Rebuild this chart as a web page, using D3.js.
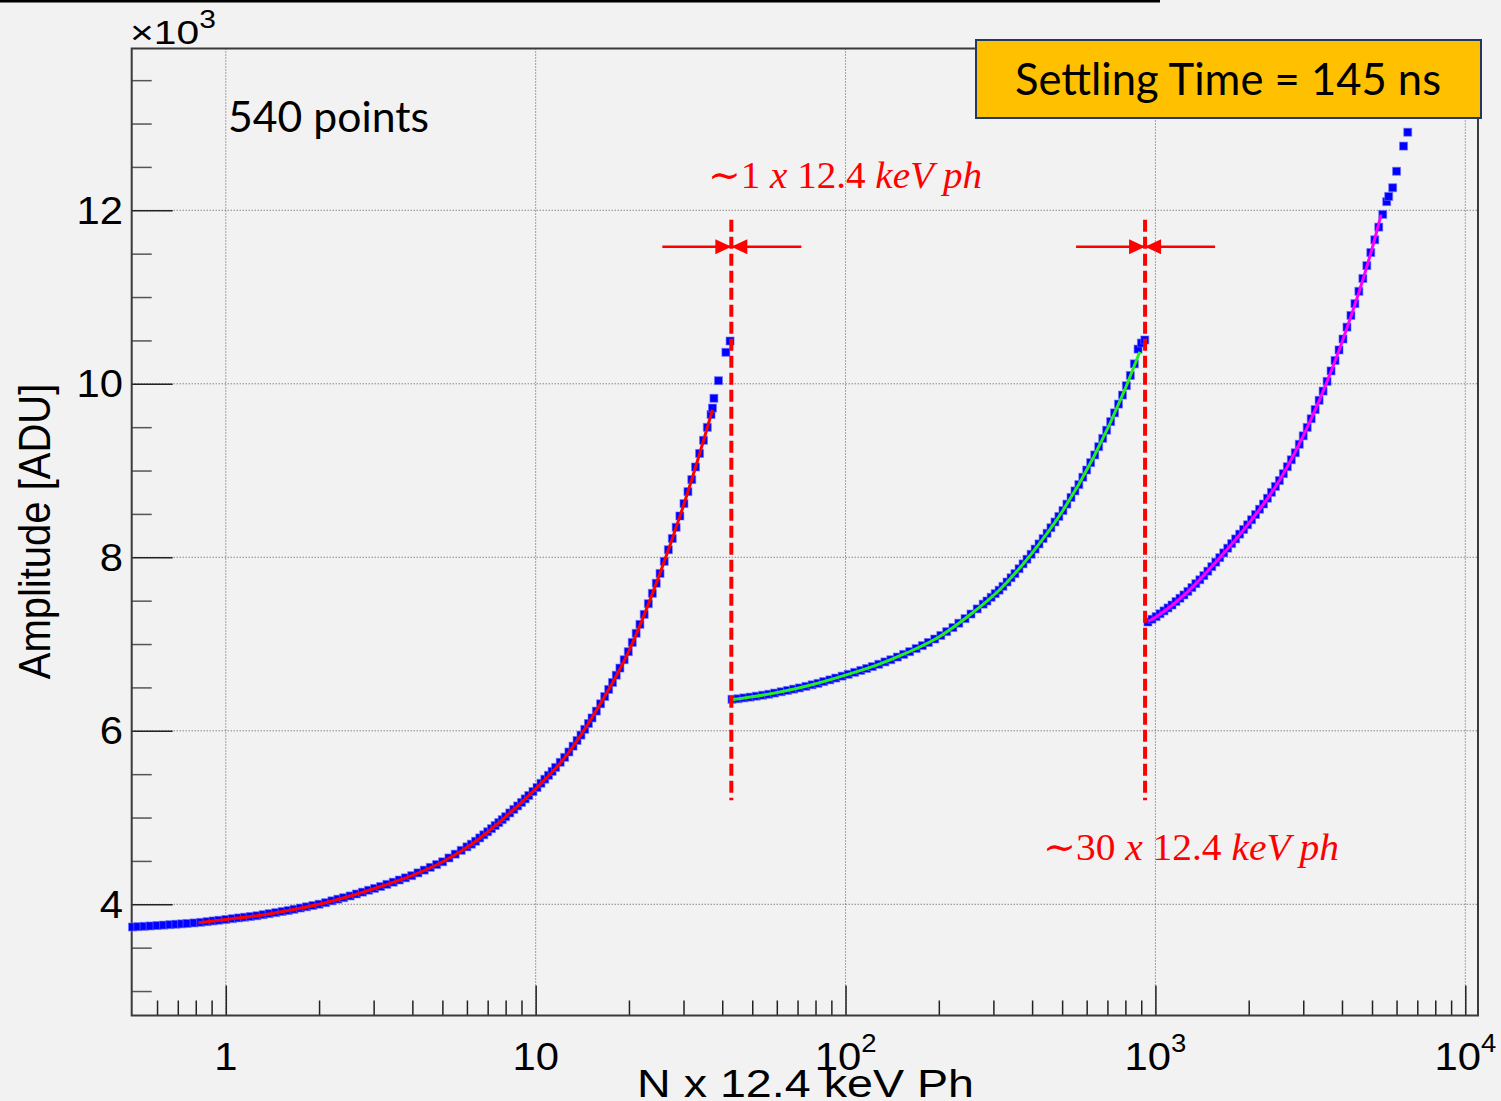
<!DOCTYPE html>
<html>
<head>
<meta charset="utf-8">
<script src="https://cdn.jsdelivr.net/npm/d3@7"></script>
<style>
  html, body { margin: 0; padding: 0; background: #f2f2f2; overflow: hidden; }
  svg { display: block; }
</style>
</head>
<body>
<svg id="chart" width="1501" height="1101"></svg>
<script>
// ---- Measured amplitudes: N x 12.4 keV photons vs. amplitude [ADU] ----
// Gain stage 1 (high gain)
const stage1N = [0.50,0.52,0.545,0.57,0.60,0.63,0.66,0.69,0.72,0.75,0.79,0.83,0.87,0.91,0.95,1.00,1.05,1.10,1.15,1.20,1.26,1.32,1.38,1.45,1.52,1.59,1.66,1.74,1.82,1.91,2.00,2.10,2.20,2.30,2.40,2.52,2.64,2.76,2.89,3.02,3.16,3.31,3.47,3.63,3.80,3.98,4.17,4.37,4.57,4.79,5.01,5.25,5.50,5.75,
  6.0,6.2,6.4,6.6,6.8,7.0,7.2,7.4,7.6,7.8,8.0,8.25,8.5,8.75,9.0,9.25,9.5,9.8,10.1,10.4,10.7,11.0,11.3,11.6,12.0,12.4,12.8,13.2,13.6,14.0,14.4,14.8,15.2,15.7,16.2,16.7,17.2,17.7,18.2,18.7,19.3,19.9,20.5,21.1,21.7,22.4,23.1,23.8,24.5,25.2,26.0,26.8,27.6,28.4,29.2,30.1,31.0,31.9,32.8,33.8,34.8,35.8,36.8,37.2,37.6,38.9,41.1,42.4];
const stage1ADU = [3738,3742,3746,3750,3755,3760,3765,3770,3774,3779,3785,3792,3800,3808,3816,3825,3834,3843,3851,3859,3868,3880,3892,3904,3917,3928,3942,3957,3971,3986,4001,4019,4040,4059,4076,4096,4119,4140,4162,4183,4205,4230,4255,4280,4305,4330,4362,4394,4426,4458,4490,4534,4578,4622,
  4662,4693,4727,4765,4801,4836,4872,4908,4942,4976,5010,5053,5094,5134,5174,5215,5254,5300,5346,5395,5442,5487,5532,5578,5637,5694,5756,5823,5888,5950,6017,6084,6148,6227,6311,6395,6477,6557,6641,6723,6819,6912,7019,7124,7227,7342,7465,7585,7701,7814,7953,8087,8217,8346,8476,8619,8757,8896,9041,9197,9349,9498,9646,9720,9833,10036,10363,10493];

// Gain stage 2 (medium gain)
const stage2N = [43.0,45.0,47.0,49.2,51.5,54.0,56.5,59.0,62.0,65.0,68.0,71.0,74.5,78.0,81.5,85.0,89.0,93.0,97.5,102,107,112,117,122,128,134,140,147,154,161,169,177,185,194,203,212,222,232,243,254,266,278,
  286,295,304,313,322,332,342,352,363,374,385,397,409,421,434,447,460,474,488,503,518,534,550,566,583,600,618,637,656,676,696,717,738,760,783,806,830,855,879,901,924];
const stage2ADU = [6363,6369,6379,6388,6399,6410,6421,6435,6450,6465,6480,6494,6512,6530,6547,6567,6587,6608,6630,6651,6674,6696,6718,6740,6767,6794,6819,6850,6881,6912,6948,6982,7018,7058,7099,7143,7190,7240,7293,7346,7405,7460,
  7496,7539,7581,7621,7665,7715,7764,7812,7868,7924,7978,8035,8095,8154,8216,8277,8341,8407,8471,8539,8613,8690,8765,8838,8923,9006,9091,9180,9275,9371,9465,9564,9665,9766,9870,9978,10096,10230,10400,10470,10505];

// Gain stage 3 (low gain)
const stage3N = [946,975,1005,1035,1066,1098,1131,1165,1200,1236,1273,1311,1350,1391,1433,1476,1520,1566,1613,1661,1711,1762,1815,1870,1926,1984,2043,2104,2167,2232,2299,2368,2439,2512,2587,2665,2745,2827,2912,2999,3089,3182,3277,3375,3476,3581,3688,3799,3913,4030,4151,4275,4403,4535,4671,4811,4955,5104,5257,5415,5577,5660,5830,6000,6320,6520];
const stage3ADU = [7254,7286,7316,7349,7382,7416,7450,7490,7528,7566,7607,7651,7696,7741,7789,7840,7892,7944,7996,8051,8105,8158,8212,8267,8321,8375,8433,8493,8554,8614,8681,8749,8817,8885,8964,9044,9124,9205,9303,9400,9497,9597,9703,9810,9916,10028,10148,10269,10390,10516,10653,10788,10924,11066,11214,11362,11513,11660,11806,11953,12100,12160,12260,12450,12740,12900];

// Fitted response curves, one per gain stage
const fit1N   = [0.816,1.0,1.26,1.59,2.0,2.52,3.16,3.98,5.01,6.31,7.94,10.0,12.6,15.8,20.0,25.1,31.6,35.5,37.2];
const fit1ADU = [3788,3825,3868,3928,4000,4095,4205,4330,4490,4710,5000,5330,5720,6250,6920,7800,8850,9450,9700];
const fit2N   = [43.3,50,63,79,100,126,158,200,251,316,398,501,631,794,890];
const fit2ADU = [6360,6392,6455,6537,6642,6757,6900,7082,7332,7635,8040,8530,9150,9920,10370];
const fit3N   = [950,1000,1259,1585,1995,2512,3162,3981,5012,5350];
const fit3ADU = [7262,7310,7590,7965,8385,8885,9575,10460,11570,11950];

// Gain switching points and their annotation
const switchN = [42.8, 926];
const switchLabelsLead = ["\u223C1 ", "\u223C30 "];
const switchRange = [5200, 11890];   // ADU extent of the dashed markers
const switchArrowADU = 11580;

// Axis ticks and labels
const xLabelValues = [1, 10, 100, 1000, 10000];
const xLabelBase = ["1", "10", "10", "10", "10"];
const xLabelExp = ["", "", "2", "3", "4"];
const yLabelValues = [4000, 6000, 8000, 10000, 12000];
const yLabelText = ["4", "6", "8", "10", "12"];

const xTitle = "N x 12.4 keV Ph";
const yTitle = "Amplitude [ADU]";
const countLabel = "540 points";
const settlingLabel = "Settling Time = 145 ns";

// ---- Drawing ----
const svg = d3.select("#chart");
const W = 1501, H = 1101;
const frame = { left: 131.7, right: 1478, top: 48.5, bottom: 1015.5 };

const x = d3.scaleLog().domain([0.497, 10990]).range([frame.left, frame.right]);
const y = d3.scaleLinear().domain([2718, 13865]).range([frame.bottom, frame.top]);

svg.append("rect").attr("width", W).attr("height", H).attr("fill", "#f2f2f2");

// slide rule above the plot
svg.append("rect").attr("x", 0).attr("y", 0).attr("width", 1160).attr("height", 2.5).attr("fill", "#000");

// grid
const grid = svg.append("g").attr("stroke", "#555").attr("stroke-width", 1).attr("stroke-dasharray", "1,2");
grid.selectAll("line.gx").data(xLabelValues).join("line")
  .attr("x1", d => x(d)).attr("x2", d => x(d))
  .attr("y1", frame.top).attr("y2", frame.bottom);
grid.selectAll("line.gy").data(yLabelValues).join("line")
  .attr("y1", d => y(d)).attr("y2", d => y(d))
  .attr("x1", frame.left).attr("x2", frame.right);

// ticks (pointing into the frame)
const xMinor = x.ticks().filter(v => !xLabelValues.includes(v) && v > 0.55);
const yMinor = d3.range(3000, 13501, 500).filter(v => !yLabelValues.includes(v));

function styleTicks(g, color) {
  g.select(".domain").remove();
  g.selectAll("line").attr("stroke", color).attr("stroke-width", 1.5);
  g.selectAll("text").remove();
}
svg.append("g").attr("transform", `translate(0,${frame.bottom})`)
  .call(d3.axisBottom(x).tickValues(xLabelValues).tickSize(-30).tickFormat(""))
  .call(g => styleTicks(g, "#222"));
svg.append("g").attr("transform", `translate(0,${frame.bottom})`)
  .call(d3.axisBottom(x).tickValues(xMinor).tickSize(-15).tickFormat(""))
  .call(g => styleTicks(g, "#222"));
svg.append("g").attr("transform", `translate(${frame.left},0)`)
  .call(d3.axisLeft(y).tickValues(yLabelValues).tickSize(-41).tickFormat(""))
  .call(g => styleTicks(g, "#222"));
svg.append("g").attr("transform", `translate(${frame.left},0)`)
  .call(d3.axisLeft(y).tickValues(yMinor).tickSize(-20).tickFormat(""))
  .call(g => styleTicks(g, "#555"));

// frame
svg.append("rect")
  .attr("x", frame.left).attr("y", frame.top)
  .attr("width", frame.right - frame.left).attr("height", frame.bottom - frame.top)
  .attr("fill", "none").attr("stroke", "#3a3a3a").attr("stroke-width", 2);

// axis labels (Helvetica-like, slightly wide)
const axisFont = "'Liberation Sans', Arial, Helvetica, sans-serif";
xLabelValues.forEach((v, i) => {
  const g = svg.append("g").attr("transform", `translate(${x(v)},1070) scale(1.1,1)`);
  const t = g.append("text").attr("text-anchor", "middle")
    .attr("font-family", axisFont).attr("font-size", 38).attr("fill", "#000");
  t.append("tspan").text(xLabelBase[i]);
  if (xLabelExp[i]) t.append("tspan").attr("dy", -18).attr("font-size", 25).text(xLabelExp[i]);
});
yLabelValues.forEach((v, i) => {
  svg.append("g").attr("transform", `translate(123,${y(v) + 13.5}) scale(1.1,1)`)
    .append("text").attr("text-anchor", "end")
    .attr("font-family", axisFont).attr("font-size", 38).attr("fill", "#000")
    .text(yLabelText[i]);
});
// exponent multiplier of the y axis
{
  const t = svg.append("g").attr("transform", "translate(130,44) scale(1.2,1)")
    .append("text").attr("font-family", axisFont).attr("font-size", 34).attr("fill", "#000");
  t.append("tspan").text("\u00D710");
  t.append("tspan").attr("dy", -16).attr("font-size", 25).text("3");
}
// axis titles
svg.append("text").attr("x", 637).attr("y", 1097)
  .attr("font-family", axisFont).attr("font-size", 39).attr("fill", "#000")
  .attr("textLength", 337).attr("lengthAdjust", "spacingAndGlyphs")
  .text(xTitle);
svg.append("g").attr("transform", "translate(50,531.5) scale(1.1,1) rotate(-90)")
  .append("text").attr("text-anchor", "middle")
  .attr("font-family", axisFont).attr("font-size", 40).attr("fill", "#000")
  .text(yTitle);

// data points
const stages = [
  [stage1N, stage1ADU],
  [stage2N, stage2ADU],
  [stage3N, stage3ADU]
];
const pts = stages.flatMap(([ns, as]) => ns.map((n, i) => ({ n, a: as[i] })));
const ms = 8;
svg.append("g").selectAll("rect").data(pts).join("rect")
  .attr("x", d => x(d.n) - ms / 2).attr("y", d => y(d.a) - ms / 2)
  .attr("width", ms).attr("height", ms)
  .attr("fill", "#0000ff")
  .attr("stroke", "#6f6fff").attr("stroke-width", 1).attr("stroke-opacity", 0.6);

// fit curves
const fits = [
  { n: fit1N, a: fit1ADU, color: "#ff0000" },
  { n: fit2N, a: fit2ADU, color: "#22ee22" },
  { n: fit3N, a: fit3ADU, color: "#ff00ff" }
];
const line = d3.line().x(d => x(d[0])).y(d => y(d[1])).curve(d3.curveMonotoneX);
fits.forEach(f => {
  svg.append("path").datum(f.n.map((n, i) => [n, f.a[i]]))
    .attr("d", line).attr("fill", "none")
    .attr("stroke", f.color).attr("stroke-width", 3);
});

// gain switching markers
const ann = svg.append("g");
switchN.forEach(n => {
  const sx = x(n), ay = y(switchArrowADU);
  ann.append("line")
    .attr("x1", sx).attr("x2", sx).attr("y1", y(switchRange[1])).attr("y2", y(switchRange[0]))
    .attr("stroke", "#ff0000").attr("stroke-width", 4).attr("stroke-dasharray", "12,5");
  ann.append("line")
    .attr("x1", sx - 69).attr("x2", sx + 70).attr("y1", ay).attr("y2", ay)
    .attr("stroke", "#ff0000").attr("stroke-width", 2.5);
  ann.append("path")
    .attr("d", `M${sx},${ay} L${sx - 16},${ay - 7.5} L${sx - 16},${ay + 7.5} Z M${sx},${ay} L${sx + 16},${ay - 7.5} L${sx + 16},${ay + 7.5} Z`)
    .attr("fill", "#ff0000");
});

const mathFont = "'Liberation Serif', 'DejaVu Serif', serif";
const switchTextPos = [[708, 188, 274], [1043, 860, 296]];
switchLabelsLead.forEach((lead, i) => {
  const [tx, ty, tw] = switchTextPos[i];
  const t = ann.append("text").attr("x", tx).attr("y", ty)
    .attr("font-family", mathFont).attr("font-size", 38).attr("fill", "#ff0000")
    .attr("textLength", tw).attr("lengthAdjust", "spacingAndGlyphs");
  t.append("tspan").text(lead);
  t.append("tspan").attr("font-style", "italic").text("x");
  t.append("tspan").text(" 12.4 ");
  t.append("tspan").attr("font-style", "italic").text("keV ph");
});

// sample count
const bodyFont = "Lato, 'Open Sans', sans-serif";
svg.append("text").attr("x", 228).attr("y", 132)
  .attr("font-family", bodyFont).attr("font-size", 42).attr("fill", "#000")
  .attr("textLength", 201).attr("lengthAdjust", "spacingAndGlyphs")
  .text(countLabel);

// settling time box
svg.append("rect").attr("x", 976).attr("y", 40).attr("width", 505).attr("height", 78)
  .attr("fill", "#ffc000").attr("stroke", "#1f3864").attr("stroke-width", 2);
svg.append("text").attr("x", 1015).attr("y", 95)
  .attr("font-family", bodyFont).attr("font-size", 44).attr("fill", "#000")
  .attr("textLength", 426).attr("lengthAdjust", "spacingAndGlyphs")
  .text(settlingLabel);
</script>
</body>
</html>
